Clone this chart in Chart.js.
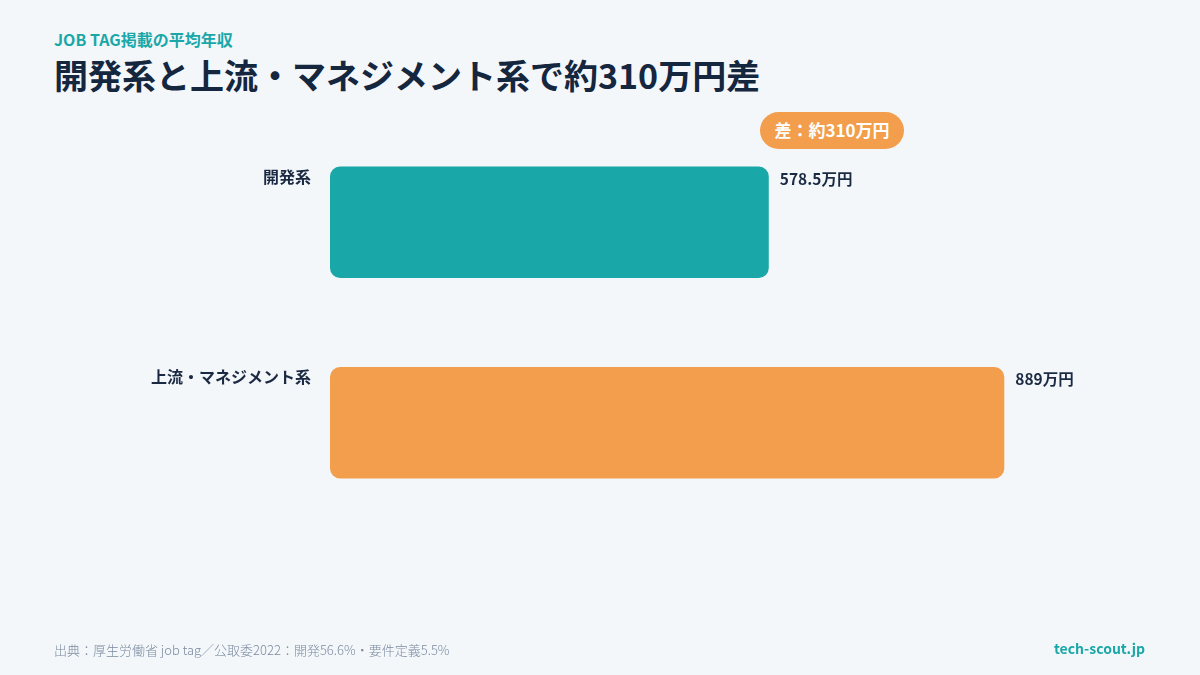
<!DOCTYPE html>
<html lang="ja">
<head>
<meta charset="utf-8">
<script src="https://cdn.jsdelivr.net/npm/chart.js@4"></script>
<style>
  html,body{margin:0;padding:0;}
  body{width:1200px;height:675px;background:#F3F7FA;position:relative;overflow:hidden;font-family:"Noto Sans CJK JP","Noto Sans",sans-serif;}
  #wrap{position:absolute;left:0;top:0;width:1200px;height:675px;}
  .sub{position:absolute;left:54px;top:28px;font-size:16px;font-weight:700;color:#1AA7A8;line-height:22px;}
  .title{position:absolute;left:54px;top:51px;font-size:34px;font-weight:700;color:#15263F;line-height:48px;}
  .badge{position:absolute;left:760px;top:112px;width:144px;height:37px;border-radius:19px;background:#F29E4C;color:#fff;font-size:17px;font-weight:700;line-height:36px;text-align:center;}
  .src{position:absolute;left:54px;top:640px;font-size:13px;font-weight:300;color:#7C8BA1;line-height:20px;}
  .brand{position:absolute;right:55px;top:638px;font-size:14px;font-weight:700;color:#1AA7A8;line-height:20px;}
</style>
</head>
<body>
<div class="sub">JOB TAG掲載の平均年収</div>
<div class="title">開発系と上流・マネジメント系で約310万円差</div>
<div class="badge">差：約310万円</div>
<div id="wrap"><canvas id="c" width="1200" height="675"></canvas></div>
<div class="src">出典：厚生労働省 job tag／公取委2022：開発56.6%・要件定義5.5%</div>
<div class="brand">tech-scout.jp</div>
<script>
const categories = ["開発系", "上流・マネジメント系"];
const values = [578.5, 889];
const valueLabels = ["578.5万円", "889万円"];
const barColors = ["#19A7A8", "#F29E4C"];

const labelPlugin = {
  id: 'labels',
  afterDatasetsDraw(chart) {
    const ctx = chart.ctx;
    const meta = chart.getDatasetMeta(0);
    ctx.save();
    ctx.fillStyle = '#1B2A42';
    ctx.textBaseline = 'middle';
    meta.data.forEach((bar, i) => {
      const props = bar.getProps(['x', 'y', 'base', 'height'], true);
      const top = props.y - props.height / 2;
      ctx.font = '700 16px "Noto Sans CJK JP", "Noto Sans", sans-serif';
      ctx.textAlign = 'right';
      ctx.fillText(categories[i], props.base - 19, top + 10);
      ctx.font = '700 15.5px "Noto Sans CJK JP", "Noto Sans", sans-serif';
      ctx.textAlign = 'left';
      ctx.fillText(valueLabels[i], props.x + 11, top + 12);
    });
    ctx.restore();
  }
};

new Chart(document.getElementById('c'), {
  type: 'bar',
  data: {
    labels: categories,
    datasets: [{
      data: values,
      backgroundColor: barColors,
      borderRadius: 10,
      borderSkipped: false,
      barPercentage: 1,
      categoryPercentage: 0.555
    }]
  },
  options: {
    indexAxis: 'y',
    responsive: false,
    animation: false,
    devicePixelRatio: 1,
    layout: { padding: { left: 330, right: 110, top: 122, bottom: 152 } },
    plugins: { legend: { display: false }, tooltip: { enabled: false } },
    scales: {
      x: { display: false, min: 0, max: 1002 },
      y: { display: false }
    }
  },
  plugins: [labelPlugin]
});
</script>
</body>
</html>
